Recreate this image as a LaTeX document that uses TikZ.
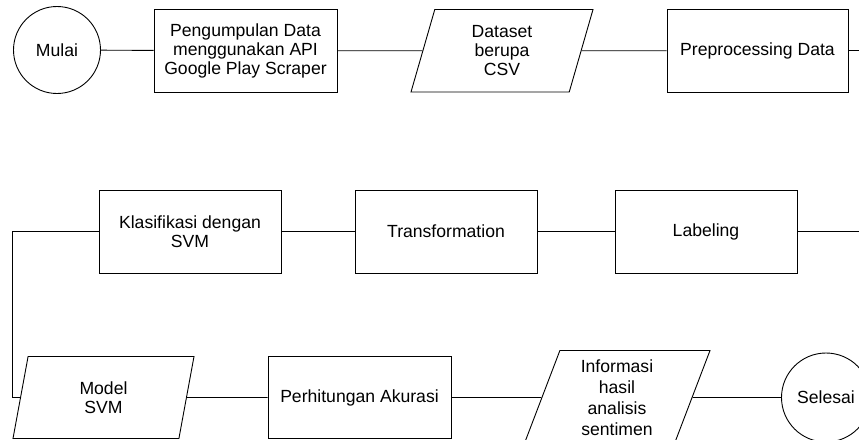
\documentclass[tikz,border=0pt]{standalone}
\usepackage{fontspec}
\setmainfont{Liberation Sans}
\usetikzlibrary{shapes.geometric}
\begin{document}
\begin{tikzpicture}[x=1pt,y=-1pt,
  every node/.style={font=\fontsize{17.6}{19}\selectfont, align=center, inner sep=0pt},
  proc/.style={draw, rectangle, minimum width=182pt, minimum height=82.5pt, line width=0.9pt},
  io/.style={draw, trapezium, trapezium left angle=64.7, trapezium right angle=115.3,
             trapezium stretches body, minimum width=182pt, minimum height=82.5pt, line width=0.9pt},
  term/.style={draw, circle, minimum size=87pt, line width=0.9pt},
  conn/.style={line width=0.9pt}]
\clip (0,0) rectangle (859,439);
\node[term] (start) at (57,50) {Mulai};
\node[proc, minimum width=183pt] (collect) at (245.5,50.75) {Pengumpulan Data\\menggunakan API\\Google Play Scraper};
\node[io] (dataset) at (502,50.75) {Dataset\\berupa\\CSV};
\node[proc, minimum width=181pt] (prep) at (757.5,50.75) {Preprocessing Data};
\node[proc, minimum height=83pt] (label) at (706,231.5) {Labeling};
\node[proc, minimum height=83pt] (trans) at (446,231.5) {Transformation};
\node[proc, minimum height=83pt] (svm) at (190,231.5) {Klasifikasi dengan\\SVM};
\node[io, minimum width=181pt, minimum height=82pt] (model) at (103.5,397.5) {Model\\SVM};
\node[proc, minimum width=183pt, minimum height=82pt] (acc) at (359.5,397.5) {Perhitungan Akurasi};
\node[io, minimum width=186pt, minimum height=94pt, font=\fontsize{17.6}{21}\selectfont] (info) at (617,397.5) {Informasi\\hasil\\analisis\\sentimen};
\node[term, minimum size=89pt] (end) at (826,397.5) {Selesai};
\coordinate (r1) at (875,50.75);
\coordinate (l1) at (12.7,231.5);
\draw[conn] (start) -- (collect);
\draw[conn] (collect) -- (dataset);
\draw[conn] (dataset) -- (prep);
\draw[conn] (prep.east) -- (r1) |- (label.east);
\draw[conn] (label) -- (trans);
\draw[conn] (trans) -- (svm);
\draw[conn] (svm.west) -- (l1) |- (model.left side);
\draw[conn] (model) -- (acc);
\draw[conn] (acc) -- (info);
\draw[conn] (info) -- (end);
\end{tikzpicture}
\end{document}
